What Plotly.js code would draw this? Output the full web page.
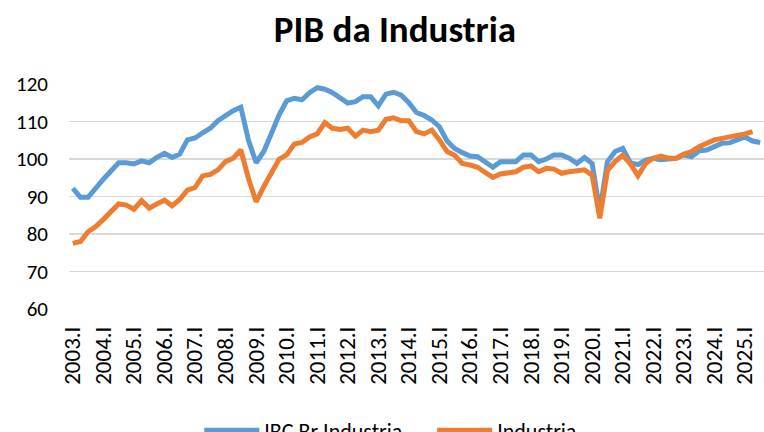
<!DOCTYPE html>
<html>
<head>
<meta charset="utf-8">
<script src="https://cdn.plot.ly/plotly-3.0.1.min.js"></script>
<style>
  html, body { margin: 0; padding: 0; background: #fff; }
  #chart { width: 764px; height: 432px; }
</style>
</head>
<body>
<div id="chart"></div>
<script>
// Quarters 2003.I .. 2025.III
const years = [2003,2004,2005,2006,2007,2008,2009,2010,2011,2012,2013,2014,2015,2016,2017,2018,2019,2020,2021,2022,2023,2024,2025];
const quarterNames = ["I","II","III","IV"];
const categories = [];
years.forEach(y => quarterNames.forEach(q => categories.push(y + "." + q)));
categories.length = 91;

const tickLabels = years.map(y => y + ".I");

const ibcBrIndustria = [
  92.2, 89.8, 89.8, 92.4, 94.6, 96.8, 99.0, 99.0,
  98.7, 99.5, 99.0, 100.4, 101.5, 100.4, 101.3, 105.1,
  105.6, 107.0, 108.2, 110.2, 111.5, 112.9, 113.8, 105.0,
  99.0, 102.0, 106.8, 111.7, 115.5, 116.2, 115.8, 117.7,
  119.0, 118.6, 117.7, 116.2, 114.9, 115.3, 116.6, 116.6,
  114.2, 117.3, 117.8, 117.0, 115.0, 112.4, 111.6, 110.4,
  108.6, 104.8, 102.8, 101.7, 100.8, 100.6, 99.0, 97.8,
  99.3, 99.3, 99.3, 101.1, 101.1, 99.3, 100.0, 101.1,
  101.1, 100.2, 98.8, 100.4, 98.8, 86.0, 99.3, 102.0,
  102.8, 99.0, 98.5, 99.7, 100.2, 99.8, 99.9, 100.2,
  101.1, 100.6, 102.2, 102.4, 103.3, 104.2, 104.3, 105.2,
  105.9, 104.8, 104.4
];

const industria = [
  77.5, 78.0, 80.6, 82.0, 83.9, 86.0, 88.0, 87.7,
  86.6, 88.9, 86.9, 88.0, 89.0, 87.5, 89.2, 91.7,
  92.4, 95.5, 95.9, 97.1, 99.3, 100.2, 102.4, 94.8,
  88.6, 92.6, 96.2, 99.9, 101.1, 104.0, 104.4, 105.9,
  106.7, 109.7, 108.2, 107.9, 108.2, 106.1, 107.7, 107.3,
  107.7, 110.6, 111.0, 110.2, 110.2, 107.3, 106.7, 107.7,
  105.1, 102.0, 101.0, 98.8, 98.4, 97.8, 96.4, 95.1,
  96.0, 96.4, 96.6, 97.8, 98.1, 96.6, 97.5, 97.3,
  96.2, 96.6, 96.7, 97.1, 95.7, 84.2, 96.9, 99.3,
  101.0, 98.7, 95.5, 98.8, 100.2, 100.8, 100.2, 100.2,
  101.3, 102.0, 103.3, 104.2, 105.1, 105.5, 105.8, 106.1,
  106.7, 107.3
];

const seriesNames = ["IBC Br Industria", "Industria"];

const FONT = "Carlito, Calibri, Lato, 'Noto Sans', sans-serif";

const traces = [
  {
    x: categories.slice(0, ibcBrIndustria.length),
    y: ibcBrIndustria,
    type: "scatter", mode: "lines",
    name: seriesNames[0] + "\u00a0\u00a0\u00a0\u00a0\u00a0",
    line: { color: "#5B9BD5", width: 5 }
  },
  {
    x: categories.slice(0, industria.length),
    y: industria,
    type: "scatter", mode: "lines",
    name: seriesNames[1],
    line: { color: "#ED7D31", width: 5 }
  }
];

const layout = {
  width: 764, height: 432,
  margin: { l: 69, r: 0, t: 84, b: 123, pad: 0, autoexpand: false },
  paper_bgcolor: "#fff", plot_bgcolor: "#fff",
  font: { family: FONT, color: "#000", size: 20 },
  title: {
    text: "<b>PIB da Industria</b>",
    font: { family: FONT, size: 37, color: "#000" },
    x: 395/764, xanchor: "center", xref: "container",
    y: 1 - 29/432, yanchor: "middle", yref: "container"
  },
  showlegend: true,
  legend: {
    orientation: "h", x: 0.463, xanchor: "center",
    yref: "paper", y: -0.54, yanchor: "middle",
    font: { family: FONT, size: 22, color: "#000" },
    itemwidth: 55, tracegroupgap: 0
  },
  xaxis: {
    type: "category",
    categoryorder: "array", categoryarray: categories,
    range: [-0.5, categories.length - 0.5],
    tickmode: "array", tickvals: tickLabels, ticktext: tickLabels,
    tickangle: -90,
    tickfont: { family: FONT, size: 23, color: "#000" },
    showgrid: false, zeroline: false, showline: false,
    ticks: "", ticklabelstandoff: 12, fixedrange: true, automargin: false
  },
  yaxis: {
    range: [60, 120],
    tickvals: [60, 70, 80, 90, 100, 110, 120],
    tickfont: { family: FONT, size: 21, color: "#000" },
    showgrid: true, gridcolor: "#D9D9D9", gridwidth: 1.5,
    zeroline: false, showline: false, ticks: "",
    ticklabelstandoff: 20, fixedrange: true, automargin: false
  }
};

Plotly.newPlot("chart", traces, layout, { staticPlot: true, displayModeBar: false });
</script>
</body>
</html>
